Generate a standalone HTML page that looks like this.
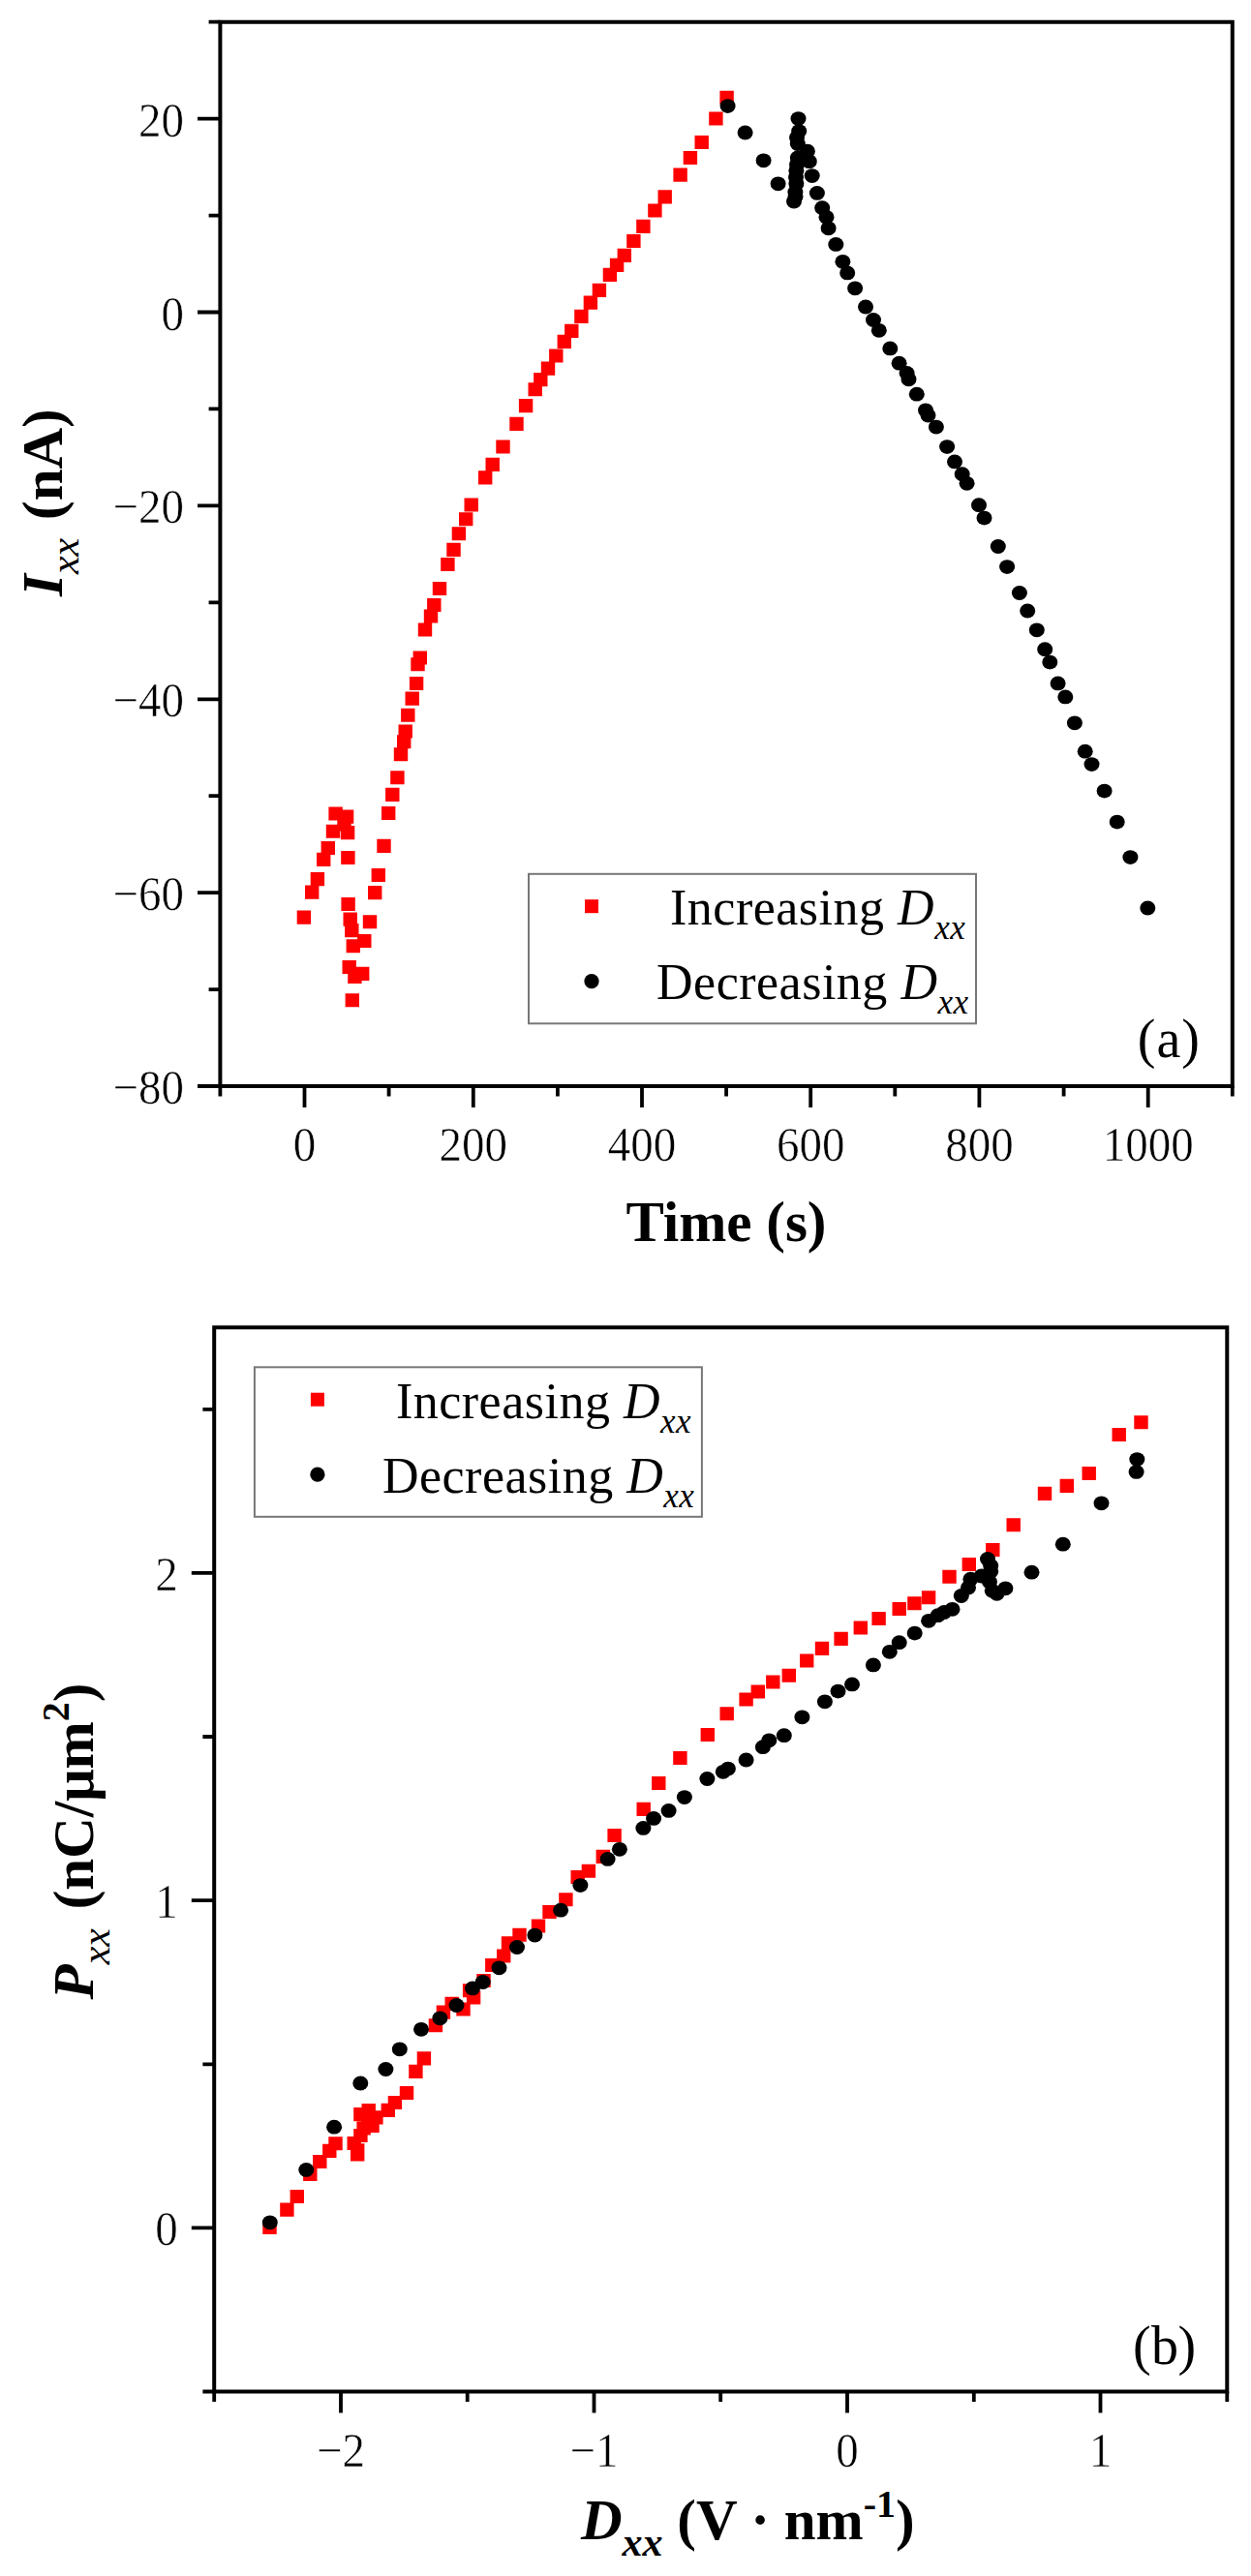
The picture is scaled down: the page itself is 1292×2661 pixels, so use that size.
<!DOCTYPE html><html><head><meta charset="utf-8"><title>Figure</title><style>html,body{margin:0;padding:0;background:#fff;}svg{display:block;}text{font-family:"Liberation Serif",serif;fill:#000;}</style></head><body><svg width="1292" height="2661" viewBox="0 0 1292 2661"><rect width="1292" height="2661" fill="#fff"/><path d="M227.4 22.7H1272.8V1122H227.4Z" fill="none" stroke="#000" stroke-width="4.0" stroke-linejoin="miter"/><path d="M314.5 1122V1144M488.8 1122V1144M663 1122V1144M837.2 1122V1144M1011.4 1122V1144M1185.7 1122V1144M227.4 1122V1132.4M401.6 1122V1132.4M575.9 1122V1132.4M750.1 1122V1132.4M924.3 1122V1132.4M1098.6 1122V1132.4M1272.8 1122V1132.4M227.4 122.6H204M227.4 322.5H204M227.4 522.4H204M227.4 722.3H204M227.4 922.1H204M227.4 1122H204M227.4 22.7H215.6M227.4 222.6H215.6M227.4 422.4H215.6M227.4 622.3H215.6M227.4 822.2H215.6M227.4 1022.1H215.6" fill="none" stroke="#000" stroke-width="3.8"/><path d="M221.2 1371.2H1267.3V2470.5H221.2Z" fill="none" stroke="#000" stroke-width="4.0" stroke-linejoin="miter"/><path d="M352 2470.5V2492.5M613.5 2470.5V2492.5M875 2470.5V2492.5M1136.5 2470.5V2492.5M221.2 2470.5V2480.9M482.7 2470.5V2480.9M744.2 2470.5V2480.9M1005.8 2470.5V2480.9M1267.3 2470.5V2480.9M221.2 2301.4H197.8M221.2 1963.1H197.8M221.2 1624.9H197.8M221.2 2470.5H209.4M221.2 2132.3H209.4M221.2 1794H209.4M221.2 1455.8H209.4" fill="none" stroke="#000" stroke-width="3.8"/><g font-size="47" stroke="#fff" stroke-width="0.5"><text transform="translate(314.5 1199.3) scale(1 1.065)" text-anchor="middle">0</text><text transform="translate(488.8 1199.3) scale(1 1.065)" text-anchor="middle">200</text><text transform="translate(663 1199.3) scale(1 1.065)" text-anchor="middle">400</text><text transform="translate(837.2 1199.3) scale(1 1.065)" text-anchor="middle">600</text><text transform="translate(1011.4 1199.3) scale(1 1.065)" text-anchor="middle">800</text><text transform="translate(1185.7 1199.3) scale(1 1.065)" text-anchor="middle">1000</text><text transform="translate(189.9 140.6) scale(1 1.065)" text-anchor="end">20</text><text transform="translate(189.9 340.5) scale(1 1.065)" text-anchor="end">0</text><text transform="translate(189.9 540.4) scale(1 1.065)" text-anchor="end">−20</text><text transform="translate(189.9 740.3) scale(1 1.065)" text-anchor="end">−40</text><text transform="translate(189.9 940.1) scale(1 1.065)" text-anchor="end">−60</text><text transform="translate(189.9 1140) scale(1 1.065)" text-anchor="end">−80</text><text transform="translate(352 2547.8) scale(1 1.065)" text-anchor="middle">−2</text><text transform="translate(613.5 2547.8) scale(1 1.065)" text-anchor="middle">−1</text><text transform="translate(875 2547.8) scale(1 1.065)" text-anchor="middle">0</text><text transform="translate(1136.5 2547.8) scale(1 1.065)" text-anchor="middle">1</text><text transform="translate(183.7 2319.4) scale(1 1.065)" text-anchor="end">0</text><text transform="translate(183.7 1981.1) scale(1 1.065)" text-anchor="end">1</text><text transform="translate(183.7 1642.9) scale(1 1.065)" text-anchor="end">2</text></g><path fill="#ff0000" d="M743.4 93.8h14.4v14.1h-14.4zM732.2 115.4h14.4v14.1h-14.4zM717.5 140h14.4v14.1h-14.4zM705.7 156h14.4v14.1h-14.4zM695.4 173.6h14.4v14.1h-14.4zM679.5 196.3h14.4v14.1h-14.4zM669.2 210.4h14.4v14.1h-14.4zM657.2 226.8h14.4v14.1h-14.4zM647.2 242h14.4v14.1h-14.4zM637.6 256.8h14.4v14.1h-14.4zM629.9 266.8h14.4v14.1h-14.4zM622.7 276.8h14.4v14.1h-14.4zM611.7 292.8h14.4v14.1h-14.4zM602.7 305.6h14.4v14.1h-14.4zM593.2 319.8h14.4v14.1h-14.4zM583.1 334.8h14.4v14.1h-14.4zM575.6 345.8h14.4v14.1h-14.4zM567.1 360.4h14.4v14.1h-14.4zM558.8 373.6h14.4v14.1h-14.4zM551.1 385.1h14.4v14.1h-14.4zM545.5 395.2h14.4v14.1h-14.4zM535.9 412.1h14.4v14.1h-14.4zM526.3 430.8h14.4v14.1h-14.4zM512.3 454.4h14.4v14.1h-14.4zM501.5 472.8h14.4v14.1h-14.4zM494 486.3h14.4v14.1h-14.4zM479.5 514.4h14.4v14.1h-14.4zM474 529.2h14.4v14.1h-14.4zM466.7 544.2h14.4v14.1h-14.4zM461.3 560.8h14.4v14.1h-14.4zM455.2 575.9h14.4v14.1h-14.4zM446.8 601h14.4v14.1h-14.4zM441.1 618h14.4v14.1h-14.4zM437.8 629.4h14.4v14.1h-14.4zM431.8 643.4h14.4v14.1h-14.4zM426.6 672.5h14.4v14.1h-14.4zM424.3 679.2h14.4v14.1h-14.4zM422.9 699h14.4v14.1h-14.4zM418.5 714.6h14.4v14.1h-14.4zM414.1 731.7h14.4v14.1h-14.4zM411.5 748.4h14.4v14.1h-14.4zM410 759.2h14.4v14.1h-14.4zM406.8 772.2h14.4v14.1h-14.4zM403.2 796.2h14.4v14.1h-14.4zM398.1 813.8h14.4v14.1h-14.4zM394 833h14.4v14.1h-14.4zM339.4 833.5h14.4v14.1h-14.4zM350.9 836.6h14.4v14.1h-14.4zM336.8 851.7h14.4v14.1h-14.4zM351.9 853.1h14.4v14.1h-14.4zM348.3 844.5h14.4v14.1h-14.4zM389.3 866.8h14.4v14.1h-14.4zM331.6 868.9h14.4v14.1h-14.4zM327 880.8h14.4v14.1h-14.4zM352.2 879h14.4v14.1h-14.4zM383.6 896.9h14.4v14.1h-14.4zM320.7 901.1h14.4v14.1h-14.4zM315 914.6h14.4v14.1h-14.4zM380 915.1h14.4v14.1h-14.4zM352.4 927h14.4v14.1h-14.4zM306.7 940.6h14.4v14.1h-14.4zM354.5 942.6h14.4v14.1h-14.4zM374.8 945.2h14.4v14.1h-14.4zM356.1 954.1h14.4v14.1h-14.4zM369.1 965h14.4v14.1h-14.4zM357.6 970.2h14.4v14.1h-14.4zM353.5 992h14.4v14.1h-14.4zM367 998.8h14.4v14.1h-14.4zM359.2 1001.9h14.4v14.1h-14.4zM356.6 1026.2h14.4v14.1h-14.4z"/><g fill="#000"><ellipse cx="751.6" cy="109.6" rx="8" ry="7.4"/><ellipse cx="769.6" cy="137" rx="8" ry="7.4"/><ellipse cx="788.6" cy="165.8" rx="8" ry="7.4"/><ellipse cx="803.6" cy="189.8" rx="8" ry="7.4"/><ellipse cx="824.5" cy="122.6" rx="8" ry="7.4"/><ellipse cx="825.2" cy="135.6" rx="8" ry="7.4"/><ellipse cx="823.8" cy="148.5" rx="8" ry="7.4"/><ellipse cx="833.9" cy="156.2" rx="8" ry="7.4"/><ellipse cx="823.8" cy="162.9" rx="8" ry="7.4"/><ellipse cx="835.8" cy="166.7" rx="8" ry="7.4"/><ellipse cx="822.4" cy="176.3" rx="8" ry="7.4"/><ellipse cx="838.7" cy="181.6" rx="8" ry="7.4"/><ellipse cx="822.4" cy="189.8" rx="8" ry="7.4"/><ellipse cx="821.4" cy="198.4" rx="8" ry="7.4"/><ellipse cx="820" cy="208" rx="8" ry="7.4"/><ellipse cx="843.9" cy="199.4" rx="8" ry="7.4"/><ellipse cx="849.2" cy="214.7" rx="8" ry="7.4"/><ellipse cx="853.5" cy="224.3" rx="8" ry="7.4"/><ellipse cx="823" cy="142" rx="8" ry="7.4"/><ellipse cx="823" cy="170" rx="8" ry="7.4"/><ellipse cx="822" cy="183" rx="8" ry="7.4"/><ellipse cx="821.5" cy="203" rx="8" ry="7.4"/><ellipse cx="855.6" cy="235.8" rx="8" ry="7.4"/><ellipse cx="863.3" cy="252.4" rx="8" ry="7.4"/><ellipse cx="870.4" cy="270.3" rx="8" ry="7.4"/><ellipse cx="875.2" cy="281.9" rx="8" ry="7.4"/><ellipse cx="883.1" cy="297.8" rx="8" ry="7.4"/><ellipse cx="894" cy="317" rx="8" ry="7.4"/><ellipse cx="902" cy="330.5" rx="8" ry="7.4"/><ellipse cx="907.8" cy="341.3" rx="8" ry="7.4"/><ellipse cx="919.3" cy="359.9" rx="8" ry="7.4"/><ellipse cx="928.6" cy="375.2" rx="8" ry="7.4"/><ellipse cx="936.6" cy="385.4" rx="8" ry="7.4"/><ellipse cx="938.5" cy="391.8" rx="8" ry="7.4"/><ellipse cx="946.8" cy="407.2" rx="8" ry="7.4"/><ellipse cx="956" cy="423.8" rx="8" ry="7.4"/><ellipse cx="958.5" cy="429" rx="8" ry="7.4"/><ellipse cx="966.9" cy="441.1" rx="8" ry="7.4"/><ellipse cx="978.1" cy="461.6" rx="8" ry="7.4"/><ellipse cx="986" cy="476.9" rx="8" ry="7.4"/><ellipse cx="993.7" cy="489.7" rx="8" ry="7.4"/><ellipse cx="998.6" cy="499.3" rx="8" ry="7.4"/><ellipse cx="1011" cy="521.7" rx="8" ry="7.4"/><ellipse cx="1016.5" cy="535.1" rx="8" ry="7.4"/><ellipse cx="1030.8" cy="564.5" rx="8" ry="7.4"/><ellipse cx="1040.1" cy="585.6" rx="8" ry="7.4"/><ellipse cx="1052.9" cy="612.5" rx="8" ry="7.4"/><ellipse cx="1061.2" cy="631" rx="8" ry="7.4"/><ellipse cx="1070.8" cy="650.8" rx="8" ry="7.4"/><ellipse cx="1079.2" cy="670.7" rx="8" ry="7.4"/><ellipse cx="1084.3" cy="684.1" rx="8" ry="7.4"/><ellipse cx="1092.6" cy="705.9" rx="8" ry="7.4"/><ellipse cx="1100.3" cy="719.9" rx="8" ry="7.4"/><ellipse cx="1109.9" cy="746.8" rx="8" ry="7.4"/><ellipse cx="1120.7" cy="776.2" rx="8" ry="7.4"/><ellipse cx="1127.5" cy="789.6" rx="8" ry="7.4"/><ellipse cx="1140.6" cy="817.1" rx="8" ry="7.4"/><ellipse cx="1153.7" cy="849.1" rx="8" ry="7.4"/><ellipse cx="1167.4" cy="885.6" rx="8" ry="7.4"/><ellipse cx="1185.3" cy="938" rx="8" ry="7.4"/></g><path fill="#ff0000" d="M271.3 2294h14.4v14.1h-14.4zM289.2 2275.6h14.4v14.1h-14.4zM299.6 2262h14.4v14.1h-14.4zM313.1 2238.8h14.4v14.1h-14.4zM323.1 2226h14.4v14.1h-14.4zM333.1 2214.8h14.4v14.1h-14.4zM339.3 2207.2h14.4v14.1h-14.4zM373.1 2180.5h14.4v14.1h-14.4zM412.8 2155h14.4v14.1h-14.4zM400.7 2165h14.4v14.1h-14.4zM393.6 2172.8h14.4v14.1h-14.4zM373.5 2172.9h14.4v14.1h-14.4zM365.2 2177.1h14.4v14.1h-14.4zM381.2 2180.3h14.4v14.1h-14.4zM377.3 2188.9h14.4v14.1h-14.4zM368.4 2191.5h14.4v14.1h-14.4zM365.2 2198.9h14.4v14.1h-14.4zM358.5 2206.9h14.4v14.1h-14.4zM362 2214.2h14.4v14.1h-14.4zM362 2218.3h14.4v14.1h-14.4zM422.2 2132.8h14.4v14.1h-14.4zM430.7 2119.3h14.4v14.1h-14.4zM442.7 2085.2h14.4v14.1h-14.4zM450.7 2071.6h14.4v14.1h-14.4zM459.5 2062.8h14.4v14.1h-14.4zM471.3 2068.4h14.4v14.1h-14.4zM481.9 2056.4h14.4v14.1h-14.4zM477.9 2049.2h14.4v14.1h-14.4zM492.3 2038.9h14.4v14.1h-14.4zM501.1 2023h14.4v14.1h-14.4zM513 2013.5h14.4v14.1h-14.4zM517.8 2000.2h14.4v14.1h-14.4zM529.3 1991.7h14.4v14.1h-14.4zM548.8 1982.5h14.4v14.1h-14.4zM560.3 1968h14.4v14.1h-14.4zM577.2 1955.2h14.4v14.1h-14.4zM589.5 1932h14.4v14.1h-14.4zM600.7 1925.7h14.4v14.1h-14.4zM615.6 1910.8h14.4v14.1h-14.4zM627.4 1888.9h14.4v14.1h-14.4zM657.5 1861.8h14.4v14.1h-14.4zM673.1 1834.9h14.4v14.1h-14.4zM695.2 1808.9h14.4v14.1h-14.4zM723.6 1784.9h14.4v14.1h-14.4zM743.5 1763.2h14.4v14.1h-14.4zM763.4 1748.5h14.4v14.1h-14.4zM775.6 1740.5h14.4v14.1h-14.4zM791.1 1730.5h14.4v14.1h-14.4zM807.6 1723.7h14.4v14.1h-14.4zM826 1708.5h14.4v14.1h-14.4zM841.8 1695.8h14.4v14.1h-14.4zM861.4 1685.8h14.4v14.1h-14.4zM881.6 1674.5h14.4v14.1h-14.4zM900.4 1664.9h14.4v14.1h-14.4zM921.5 1655h14.4v14.1h-14.4zM937.2 1649.2h14.4v14.1h-14.4zM951.9 1643.2h14.4v14.1h-14.4zM973.3 1621.7h14.4v14.1h-14.4zM993.6 1609h14.4v14.1h-14.4zM1018.1 1594h14.4v14.1h-14.4zM1039.5 1568.2h14.4v14.1h-14.4zM1071.8 1535.8h14.4v14.1h-14.4zM1094.6 1527.8h14.4v14.1h-14.4zM1117.5 1514.9h14.4v14.1h-14.4zM1148.5 1475h14.4v14.1h-14.4zM1171.3 1462.2h14.4v14.1h-14.4z"/><g fill="#000"><ellipse cx="278.8" cy="2295.8" rx="8" ry="7.4"/><ellipse cx="316.3" cy="2241.4" rx="8" ry="7.4"/><ellipse cx="345.1" cy="2197.2" rx="8" ry="7.4"/><ellipse cx="372.3" cy="2152" rx="8" ry="7.4"/><ellipse cx="398.4" cy="2137.5" rx="8" ry="7.4"/><ellipse cx="412.8" cy="2116.8" rx="8" ry="7.4"/><ellipse cx="435" cy="2096.3" rx="8" ry="7.4"/><ellipse cx="454.4" cy="2084.8" rx="8" ry="7.4"/><ellipse cx="471.5" cy="2071.5" rx="8" ry="7.4"/><ellipse cx="488" cy="2053.9" rx="8" ry="7.4"/><ellipse cx="498.7" cy="2047.5" rx="8" ry="7.4"/><ellipse cx="515.5" cy="2032.8" rx="8" ry="7.4"/><ellipse cx="534" cy="2011.5" rx="8" ry="7.4"/><ellipse cx="552.4" cy="1999.1" rx="8" ry="7.4"/><ellipse cx="579.1" cy="1973.2" rx="8" ry="7.4"/><ellipse cx="599.4" cy="1947.6" rx="8" ry="7.4"/><ellipse cx="627.6" cy="1920.4" rx="8" ry="7.4"/><ellipse cx="639.9" cy="1910.3" rx="8" ry="7.4"/><ellipse cx="664.4" cy="1888.4" rx="8" ry="7.4"/><ellipse cx="675.1" cy="1878.4" rx="8" ry="7.4"/><ellipse cx="690.6" cy="1870.4" rx="8" ry="7.4"/><ellipse cx="706.9" cy="1856.6" rx="8" ry="7.4"/><ellipse cx="730.4" cy="1837.5" rx="8" ry="7.4"/><ellipse cx="746.8" cy="1830.3" rx="8" ry="7.4"/><ellipse cx="751.9" cy="1827.1" rx="8" ry="7.4"/><ellipse cx="770.6" cy="1818" rx="8" ry="7.4"/><ellipse cx="787.9" cy="1804.7" rx="8" ry="7.4"/><ellipse cx="794.3" cy="1797.8" rx="8" ry="7.4"/><ellipse cx="809.8" cy="1792.7" rx="8" ry="7.4"/><ellipse cx="828.4" cy="1773.8" rx="8" ry="7.4"/><ellipse cx="851.9" cy="1757.8" rx="8" ry="7.4"/><ellipse cx="865.5" cy="1747.1" rx="8" ry="7.4"/><ellipse cx="880" cy="1739.9" rx="8" ry="7.4"/><ellipse cx="901.9" cy="1719.9" rx="8" ry="7.4"/><ellipse cx="918.8" cy="1706.3" rx="8" ry="7.4"/><ellipse cx="928.7" cy="1696.7" rx="8" ry="7.4"/><ellipse cx="944.7" cy="1687.1" rx="8" ry="7.4"/><ellipse cx="959.1" cy="1674.3" rx="8" ry="7.4"/><ellipse cx="968.7" cy="1668.7" rx="8" ry="7.4"/><ellipse cx="975.1" cy="1665.5" rx="8" ry="7.4"/><ellipse cx="983.5" cy="1662.3" rx="8" ry="7.4"/><ellipse cx="992.8" cy="1648.5" rx="8" ry="7.4"/><ellipse cx="1002.4" cy="1631.2" rx="8" ry="7.4"/><ellipse cx="1013.6" cy="1628" rx="8" ry="7.4"/><ellipse cx="1023.2" cy="1623.2" rx="8" ry="7.4"/><ellipse cx="1020" cy="1610.4" rx="8" ry="7.4"/><ellipse cx="1023.2" cy="1617.6" rx="8" ry="7.4"/><ellipse cx="1024.8" cy="1643.2" rx="8" ry="7.4"/><ellipse cx="1038.4" cy="1640.8" rx="8" ry="7.4"/><ellipse cx="1029.6" cy="1646.3" rx="8" ry="7.4"/><ellipse cx="1065.5" cy="1624.2" rx="8" ry="7.4"/><ellipse cx="1000" cy="1640" rx="8" ry="7.4"/><ellipse cx="1022" cy="1634" rx="8" ry="7.4"/><ellipse cx="1097.8" cy="1595.2" rx="8" ry="7.4"/><ellipse cx="1137.5" cy="1552.8" rx="8" ry="7.4"/><ellipse cx="1173.6" cy="1520.4" rx="8" ry="7.4"/><ellipse cx="1174.3" cy="1507.6" rx="8" ry="7.4"/></g><rect x="546" y="902.8" width="462" height="154.5" fill="#fff" stroke="#777" stroke-width="2"/><rect x="604" y="929.2" width="14" height="14" fill="#ff0000"/><circle cx="611" cy="1013.6" r="7.6" fill="#000"/><text font-size="52" letter-spacing="0.5" x="692" y="955">Increasing <tspan font-style="italic">D</tspan><tspan font-style="italic" font-size="35" dy="15">xx</tspan></text><text font-size="52" letter-spacing="0.5" x="678" y="1032.3">Decreasing <tspan font-style="italic">D</tspan><tspan font-style="italic" font-size="35" dy="15">xx</tspan></text><rect x="262.9" y="1412.3" width="462" height="154.5" fill="#fff" stroke="#777" stroke-width="2"/><rect x="320.9" y="1438.7" width="14" height="14" fill="#ff0000"/><circle cx="327.9" cy="1523.1" r="7.6" fill="#000"/><text font-size="52" letter-spacing="0.5" x="408.9" y="1464.5">Increasing <tspan font-style="italic">D</tspan><tspan font-style="italic" font-size="35" dy="15">xx</tspan></text><text font-size="52" letter-spacing="0.5" x="394.9" y="1541.8">Decreasing <tspan font-style="italic">D</tspan><tspan font-style="italic" font-size="35" dy="15">xx</tspan></text><g transform="rotate(-90)"><text x="-616" y="64.3" font-size="59" font-weight="bold"><tspan font-style="italic">I</tspan><tspan font-size="42" font-style="italic" font-weight="normal" dy="16.7">xx</tspan><tspan dy="-16.7" dx="4"> (nA)</tspan></text></g><text x="750" y="1282.4" font-size="59" font-weight="bold" text-anchor="middle">Time (s)</text><g transform="rotate(-90)"><text x="-2065.4" y="95.8" font-size="59" font-weight="bold"><tspan font-style="italic">P</tspan><tspan font-size="42" font-style="italic" font-weight="normal" dy="16.7">xx</tspan><tspan dy="-16.7" dx="5"> (nC/μm</tspan><tspan font-size="40" dy="-24.8">2</tspan><tspan dy="24.8">)</tspan></text></g><text x="600" y="2623.2" font-size="59" font-weight="bold"><tspan font-style="italic">D</tspan><tspan font-size="42" font-style="italic" dy="16.4">xx</tspan><tspan dy="-16.4"> (V · nm</tspan><tspan font-size="40" dy="-23.7">-1</tspan><tspan dy="23.7">)</tspan></text><text x="1174.7 1194.4 1220.2" y="1092.2" font-size="56">(a)</text><text x="1169.9 1189 1216.6" y="2442.3" font-size="56">(b)</text></svg></body></html>
